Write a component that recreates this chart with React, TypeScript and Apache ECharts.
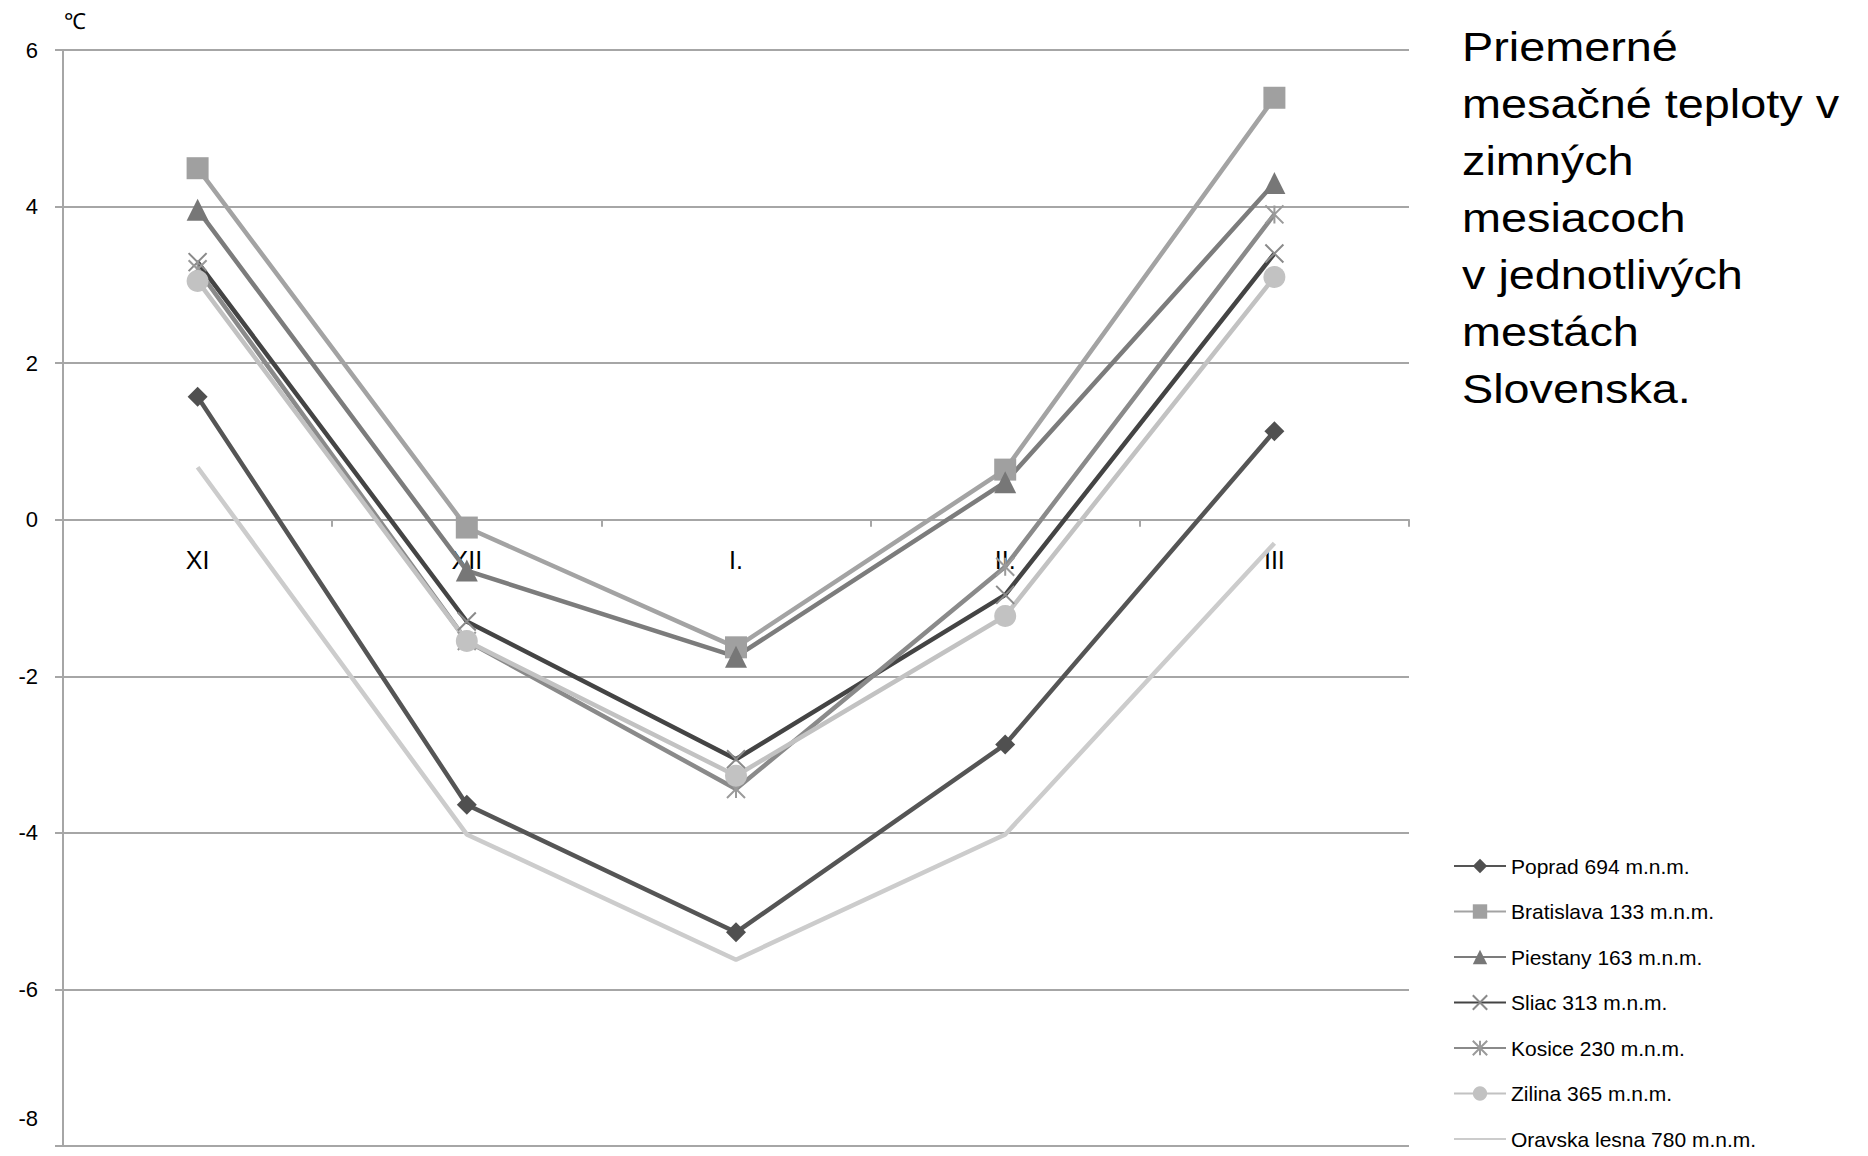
import React, { useEffect, useRef } from "react";
import * as echarts from "echarts";

const categories = ["XI", "XII", "I.", "II.", "III"];
const yTicks = [-8, -6, -4, -2, 0, 2, 4, 6];

const poprad = [1.57, -3.64, -5.27, -2.87, 1.13];
const bratislava = [4.49, -0.1, -1.63, 0.64, 5.39];
const piestany = [3.96, -0.65, -1.75, 0.48, 4.3];
const sliac = [3.29, -1.3, -3.06, -0.96, 3.4];
const kosice = [3.2, -1.55, -3.44, -0.6, 3.9];
const zilina = [3.05, -1.55, -3.27, -1.23, 3.1];
const oravska = [0.67, -4.02, -5.62, -4.02, -0.3];

const seriesNames = [
  "Poprad 694 m.n.m.",
  "Bratislava 133 m.n.m.",
  "Piestany 163 m.n.m.",
  "Sliac 313 m.n.m.",
  "Kosice 230 m.n.m.",
  "Zilina 365 m.n.m.",
  "Oravska lesna 780 m.n.m.",
];

const titleLines = [
  "Priemerné",
  "mesačné teploty v",
  "zimných",
  "mesiacoch",
  "v jednotlivých",
  "mestách",
  "Slovenska.",
];

const FONT = "Liberation Sans";

const W = 1868;
const H = 1156;
const GRID = { left: 63, right: 459, top: 50, bottom: 10 };

export default function App() {
  const ref = useRef<HTMLDivElement>(null);
  useEffect(() => {
    if (!ref.current) return;
    const chart = echarts.init(ref.current, undefined, { renderer: "svg" });
    const yMin = yTicks[0];
    const yMax = yTicks[yTicks.length - 1];
    const gridH = H - GRID.top - GRID.bottom;
    // move the category axis (line, ticks, labels) up to the zero line
    const xOffset = -gridH * ((0 - yMin) / (yMax - yMin));
    const mk = (
      name: string,
      data: number[],
      lineColor: string,
      symbol: string,
      symbolSize: number,
      markColor: string,
      stroke?: boolean
    ) => ({
      name,
      type: "line",
      data,
      symbol,
      symbolSize,
      showSymbol: symbol !== "none",
      lineStyle: { color: lineColor, width: 4.5 },
      itemStyle: stroke
        ? { color: "rgba(0,0,0,0)", borderColor: markColor, borderWidth: 2 }
        : { color: markColor },
      color: lineColor,
      z: 3,
    });
    const option: any = {
      animation: false,
      textStyle: { fontFamily: FONT },
      grid: { ...GRID, containLabel: false, outerBoundsMode: "none" },
      xAxis: {
        type: "category",
        data: categories,
        boundaryGap: true,
        position: "bottom",
        offset: xOffset,
        axisLine: { onZero: false, lineStyle: { color: "#a6a6a6", width: 2 } },
        axisTick: { show: true, length: 7, lineStyle: { color: "#a6a6a6", width: 2 } },
        axisLabel: { color: "#000", fontSize: 25, fontFamily: FONT, margin: 28 },
        splitLine: { show: false },
        z: 2,
      },
      yAxis: {
        type: "value",
        min: yMin,
        max: yMax,
        interval: 2,
        axisLine: { show: true, lineStyle: { color: "#a6a6a6", width: 2 } },
        axisTick: { show: true, length: 8, lineStyle: { color: "#a6a6a6", width: 2 } },
        axisLabel: {
          color: "#000",
          fontSize: 22,
          fontFamily: FONT,
          margin: 25,
          formatter: (v: number) => (v === yMin ? `{low|${v}}` : `${v}`),
          rich: { low: { fontSize: 22, fontFamily: FONT, color: "#000", padding: [0, 0, 56, 0] } },
        },
        splitLine: { show: true, lineStyle: { color: "#a6a6a6", width: 2 } },
      },
      legend: {
        orient: "vertical",
        left: 1453,
        top: 854,
        padding: 0,
        itemWidth: 52,
        itemHeight: 18,
        itemGap: 21.5,
        textStyle: { color: "#000", fontSize: 21, fontFamily: FONT, lineHeight: 24 },
        data: seriesNames.map((n, i) =>
          i === seriesNames.length - 1 ? { name: n, itemStyle: { opacity: 0 } } : { name: n }
        ),
      },
      graphic: [
        {
          type: "text",
          x: 64,
          y: 10,
          style: { text: "℃", fontSize: 22, fill: "#000", fontFamily: FONT, align: "left", verticalAlign: "top" },
        },
        {
          type: "text",
          x: 1462,
          y: 19,
          scaleX: 1.17,
          style: {
            text: titleLines.join("\n"),
            fontSize: 40,
            lineHeight: 57,
            fill: "#000",
            fontFamily: FONT,
            align: "left",
            verticalAlign: "top",
          },
        },
      ],
      series: [
        mk(seriesNames[0], poprad, "#555555", "diamond", 20, "#505050"),
        mk(seriesNames[1], bratislava, "#a3a3a3", "rect", 22, "#a0a0a0"),
        mk(seriesNames[2], piestany, "#7c7c7c", "triangle", 22, "#777777"),
        mk(seriesNames[3], sliac, "#444444", "path://M0,0L10,10M10,0L0,10", 18, "#8a8a8a", true),
        mk(seriesNames[4], kosice, "#8a8a8a", "path://M0,0L10,10M10,0L0,10M5,0L5,10", 18, "#9a9a9a", true),
        mk(seriesNames[5], zilina, "#c2c2c2", "circle", 22, "#c2c2c2"),
        mk(seriesNames[6], oravska, "#cccccc", "none", 0, "#cccccc"),
      ],
    };
    chart.setOption(option);
    return () => chart.dispose();
  }, []);
  return (
    <div
      ref={ref}
      style={{ position: "absolute", left: 0, top: 0, width: W, height: H, background: "#fff" }}
    />
  );
}
